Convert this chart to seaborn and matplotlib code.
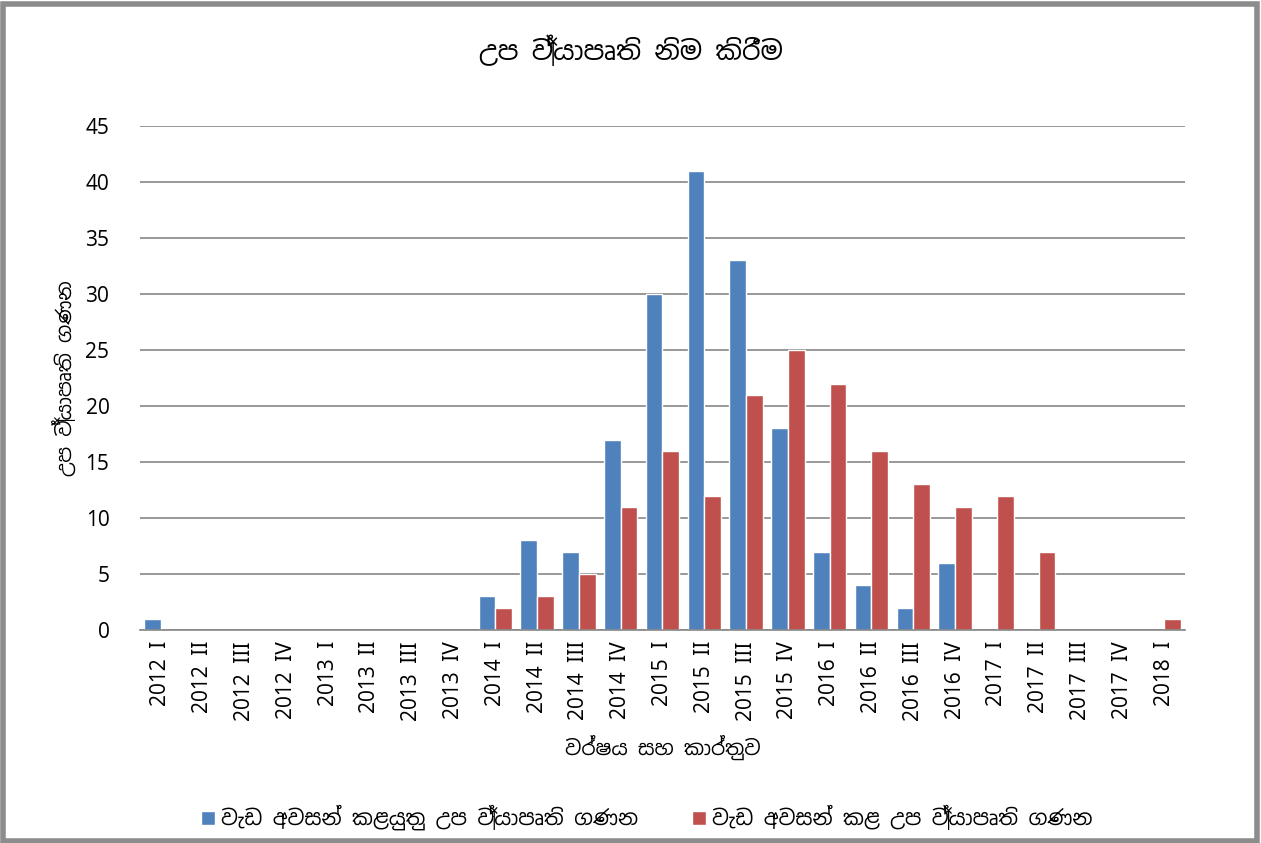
import matplotlib
matplotlib.use("Agg")
import matplotlib.pyplot as plt
from matplotlib import font_manager
from matplotlib.patches import Rectangle
import pandas as pd
import seaborn as sns

quarters = [
    "2012 I", "2012 II", "2012 III", "2012 IV",
    "2013 I", "2013 II", "2013 III", "2013 IV",
    "2014 I", "2014 II", "2014 III", "2014 IV",
    "2015 I", "2015 II", "2015 III", "2015 IV",
    "2016 I", "2016 II", "2016 III", "2016 IV",
    "2017 I", "2017 II", "2017 III", "2017 IV",
    "2018 I",
]
to_finish = [1, 0, 0, 0, 0, 0, 0, 0, 3, 8, 7, 17, 30, 41, 33, 18, 7, 4, 2, 6, 0, 0, 0, 0, 0]
finished = [0, 0, 0, 0, 0, 0, 0, 0, 2, 3, 5, 11, 16, 12, 21, 25, 22, 16, 13, 11, 12, 7, 0, 0, 1]

series_to_finish = "වැඩ අවසන් කළයුතු උප ව්‍යාපෘති ගණන"
series_finished = "වැඩ අවසන් කළ උප ව්‍යාපෘති ගණන"
title = "උප ව්‍යාපෘති නිම කිරීම"
x_label = "වර්ෂය සහ කාර්තුව"
y_label = "උප ව්‍යාපෘති ගණන"

sns.set_theme(style="white", rc={"text.color": "black", "axes.labelcolor": "black",
                                 "xtick.color": "black", "ytick.color": "black"})
# Sinhala needs its own font; use one if the system has it
sinhala = sorted({f.name for f in font_manager.fontManager.ttflist if "Sinhala" in f.name})
plt.rcParams["font.family"] = sinhala[:1] + ["DejaVu Sans"]

df = pd.DataFrame({
    "quarter": quarters * 2,
    "count": to_finish + finished,
    "series": [series_to_finish] * len(quarters) + [series_finished] * len(quarters),
})

fig = plt.figure(figsize=(12.61, 8.43), dpi=100)
ax = fig.add_axes([0.111, 0.2527, 0.8287, 0.5978])

sns.barplot(
    data=df, x="quarter", y="count", hue="series",
    palette=["#4F81BD", "#C0504D"], width=0.8, saturation=1,
    order=quarters, ax=ax,
)

ax.set_ylim(0, 45)
ax.set_yticks(range(0, 46, 5))
ax.yaxis.grid(True, color="#868686", linewidth=1.2)
ax.set_axisbelow(True)
for side in ["top", "right", "left"]:
    ax.spines[side].set_visible(False)
ax.spines["bottom"].set_color("#868686")
ax.spines["bottom"].set_linewidth(1.2)
ax.tick_params(axis="y", labelsize=15, length=0, pad=22)
ax.tick_params(axis="x", labelsize=15, length=0, pad=8)
plt.setp(ax.get_xticklabels(), rotation=90)

ax.set_xlabel(x_label, fontsize=14.5, fontweight="bold", labelpad=10)
ax.set_ylabel(y_label, fontsize=14.5, fontweight="bold", labelpad=6)
fig.suptitle(title, fontsize=19, fontweight="bold", y=0.958)

handles, labels = ax.get_legend_handles_labels()
ax.legend_.remove()
fig.legend(handles, labels, loc="center", bbox_to_anchor=(0.513, 0.03), ncol=2,
           frameon=False, fontsize=15, handlelength=0.65, handleheight=0.65,
           handletextpad=0.3, columnspacing=2.6)

fig.patches.append(Rectangle((0.002, 0.002), 0.995, 0.993, transform=fig.transFigure,
                             fill=False, edgecolor="#8c8c8c", linewidth=4))

fig.savefig("out.png", dpi=100)
